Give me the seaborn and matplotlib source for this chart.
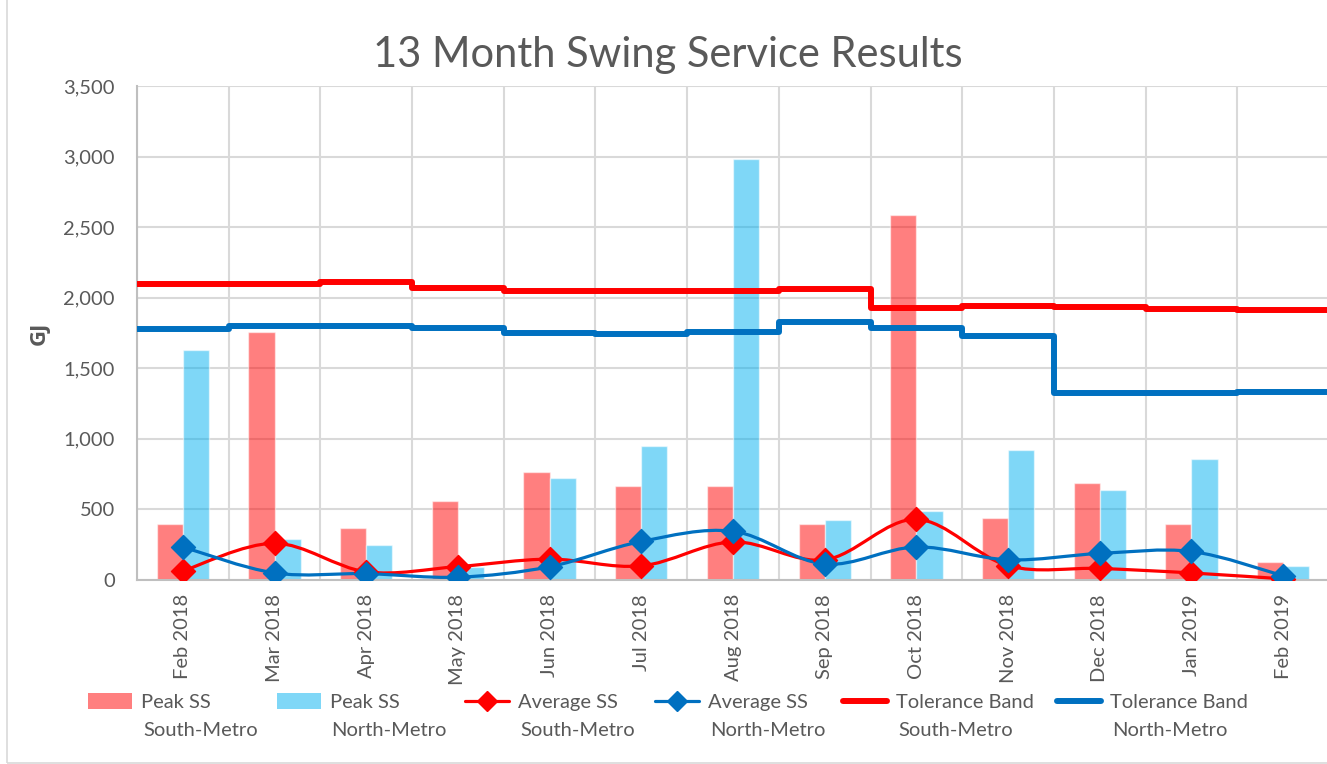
import numpy as np
import pandas as pd
import matplotlib
matplotlib.use("Agg")
import matplotlib.pyplot as plt
from matplotlib.path import Path
from matplotlib.patches import PathPatch, Rectangle
from matplotlib.lines import Line2D
import seaborn as sns

# ---- data ----
months = ["Feb 2018", "Mar 2018", "Apr 2018", "May 2018", "Jun 2018", "Jul 2018", "Aug 2018",
          "Sep 2018", "Oct 2018", "Nov 2018", "Dec 2018", "Jan 2019", "Feb 2019"]
peak_south = [395, 1755, 365, 560, 765, 665, 667, 397, 2585, 438, 685, 397, 126]
peak_north = [1632, 290, 248, 95, 724, 948, 2982, 426, 490, 920, 638, 857, 101]
avg_south = [64, 260, 58, 95, 148, 100, 270, 143, 430, 101, 82, 50, 8]
avg_north = [234, 50, 45, 20, 94, 273, 345, 113, 234, 143, 188, 202, 30]
tol_south = [2095, 2098, 2108, 2071, 2051, 2045, 2045, 2062, 1929, 1944, 1937, 1919, 1912]
tol_north = [1776, 1802, 1802, 1787, 1748, 1742, 1758, 1826, 1782, 1729, 1326, 1326, 1333]

RED = "#FF0000"
BLUE = "#0070C0"
CYAN = "#00B0F0"
GREY = "#595959"

sns.set_theme(style="white")
plt.rcParams["font.family"] = ["Lato", "DejaVu Sans"]

W, H = 1327, 764
fig = plt.figure(figsize=(W / 100, H / 100), dpi=100)
ax = fig.add_axes([137 / W, 1 - 580 / H, (1329 - 137) / W, (580 - 86) / H])

# grid
ax.set_axisbelow(True)
ax.yaxis.grid(True, color="#D9D9D9", lw=1.5)
for b in np.arange(len(months) + 1) - 0.5:
    ax.axvline(b, color="#D9D9D9", lw=1.5, zorder=0)

# bars
df = pd.DataFrame({
    "month": months * 2,
    "value": peak_south + peak_north,
    "series": ["South"] * len(months) + ["North"] * len(months),
})
sns.barplot(data=df, x="month", y="value", hue="series", palette={"South": RED, "North": CYAN},
            width=0.57, alpha=0.5, gap=0, legend=False, ax=ax, zorder=2, saturation=1)

x = np.arange(len(months))


def smooth_path(xs, ys):
    # Excel-style smoothed line: cubic bezier through every point
    pts = np.column_stack([xs, ys]).astype(float)
    verts = [pts[0]]
    codes = [Path.MOVETO]
    n = len(pts)
    for i in range(n - 1):
        p0 = pts[i - 1] if i > 0 else pts[i]
        p1, p2 = pts[i], pts[i + 1]
        p3 = pts[i + 2] if i + 2 < n else pts[i + 1]
        c1 = p1 + (p2 - p0) / 6
        c2 = p2 - (p3 - p1) / 6
        verts += [c1, c2, p2]
        codes += [Path.CURVE4] * 3
    return Path(verts, codes)


for vals, col in [(avg_south, RED), (avg_north, BLUE)]:
    ax.add_patch(PathPatch(smooth_path(x, vals), fill=False, edgecolor=col, lw=2.3, zorder=4,
                           capstyle="round", joinstyle="round"))
    sns.scatterplot(x=x, y=vals, marker="D", s=150, color=col, edgecolor=col, ax=ax, zorder=5)

# tolerance bands (step lines over each month)
edges = np.append(x - 0.5, x[-1] + 0.5)
for vals, col in [(tol_south, RED), (tol_north, BLUE)]:
    ax.step(edges, list(vals) + [vals[-1]], where="post", color=col, lw=4.3, zorder=6,
            solid_joinstyle="round", solid_capstyle="butt")

ax.set_xlim(-0.5, len(months) - 0.5)
ax.set_ylim(0, 3500)
ax.set_yticks(np.arange(0, 3501, 500))
ax.set_yticklabels([f"{v:,}" for v in range(0, 3501, 500)])
ax.set_xticks(x)
ax.set_xticklabels(months, rotation=90)
ax.tick_params(axis="both", labelsize=14.5, colors=GREY, length=0)
ax.tick_params(axis="y", pad=16)
ax.tick_params(axis="x", pad=10)
ax.set_xlabel("")
ax.set_ylabel("GJ", fontsize=16, fontweight="bold", color=GREY, family=["Open Sans", "DejaVu Sans"])
ax.yaxis.set_label_coords((50 - 137) / (1329 - 137), 0.5)
for s in ["top", "right"]:
    ax.spines[s].set_visible(False)
for s in ["left", "bottom"]:
    ax.spines[s].set_color("#BFBFBF")
    ax.spines[s].set_linewidth(1.5)

fig.text(668 / W, 1 - 55 / H, "13 Month Swing Service Results", ha="center", va="center",
         fontsize=30, color=GREY)

# legend: one entry per series, second label line underneath
handles = [
    Rectangle((0, 0), 1, 1, color=RED, alpha=0.5, lw=0),
    Rectangle((0, 0), 1, 1, color=CYAN, alpha=0.5, lw=0),
    Line2D([], [], color=RED, lw=2.3, marker="D", ms=10),
    Line2D([], [], color=BLUE, lw=2.3, marker="D", ms=10),
    Line2D([], [], color=RED, lw=4.3),
    Line2D([], [], color=BLUE, lw=4.3),
]
first = ["Peak SS", "Peak SS", "Average SS", "Average SS", "Tolerance Band", "Tolerance Band"]
second = ["South-Metro", "North-Metro", "South-Metro", "North-Metro", "South-Metro", "North-Metro"]
handle_x = [88, 277, 465, 655, 843, 1057]
text_x = [143, 331, 520, 710, 898, 1112]
for h, l1, l2, hx, tx in zip(handles, first, second, handle_x, text_x):
    fig.legend([h], [l1], loc="center left", bbox_to_anchor=(hx / W, 1 - 702 / H), frameon=False,
               fontsize=14.5, labelcolor=GREY, borderpad=0, borderaxespad=0,
               handlelength=2.2, handleheight=0.8, handletextpad=0.45)
    fig.text(tx / W, 1 - 730 / H, l2, ha="left", va="center", fontsize=14.5, color=GREY)

# chart area border
fig.add_artist(Rectangle((7 / W, 1 / H), 1.2, 1.2, transform=fig.transFigure, fill=False,
                         edgecolor="#D9D9D9", lw=1.2))

fig.savefig("out.png", dpi=100)
